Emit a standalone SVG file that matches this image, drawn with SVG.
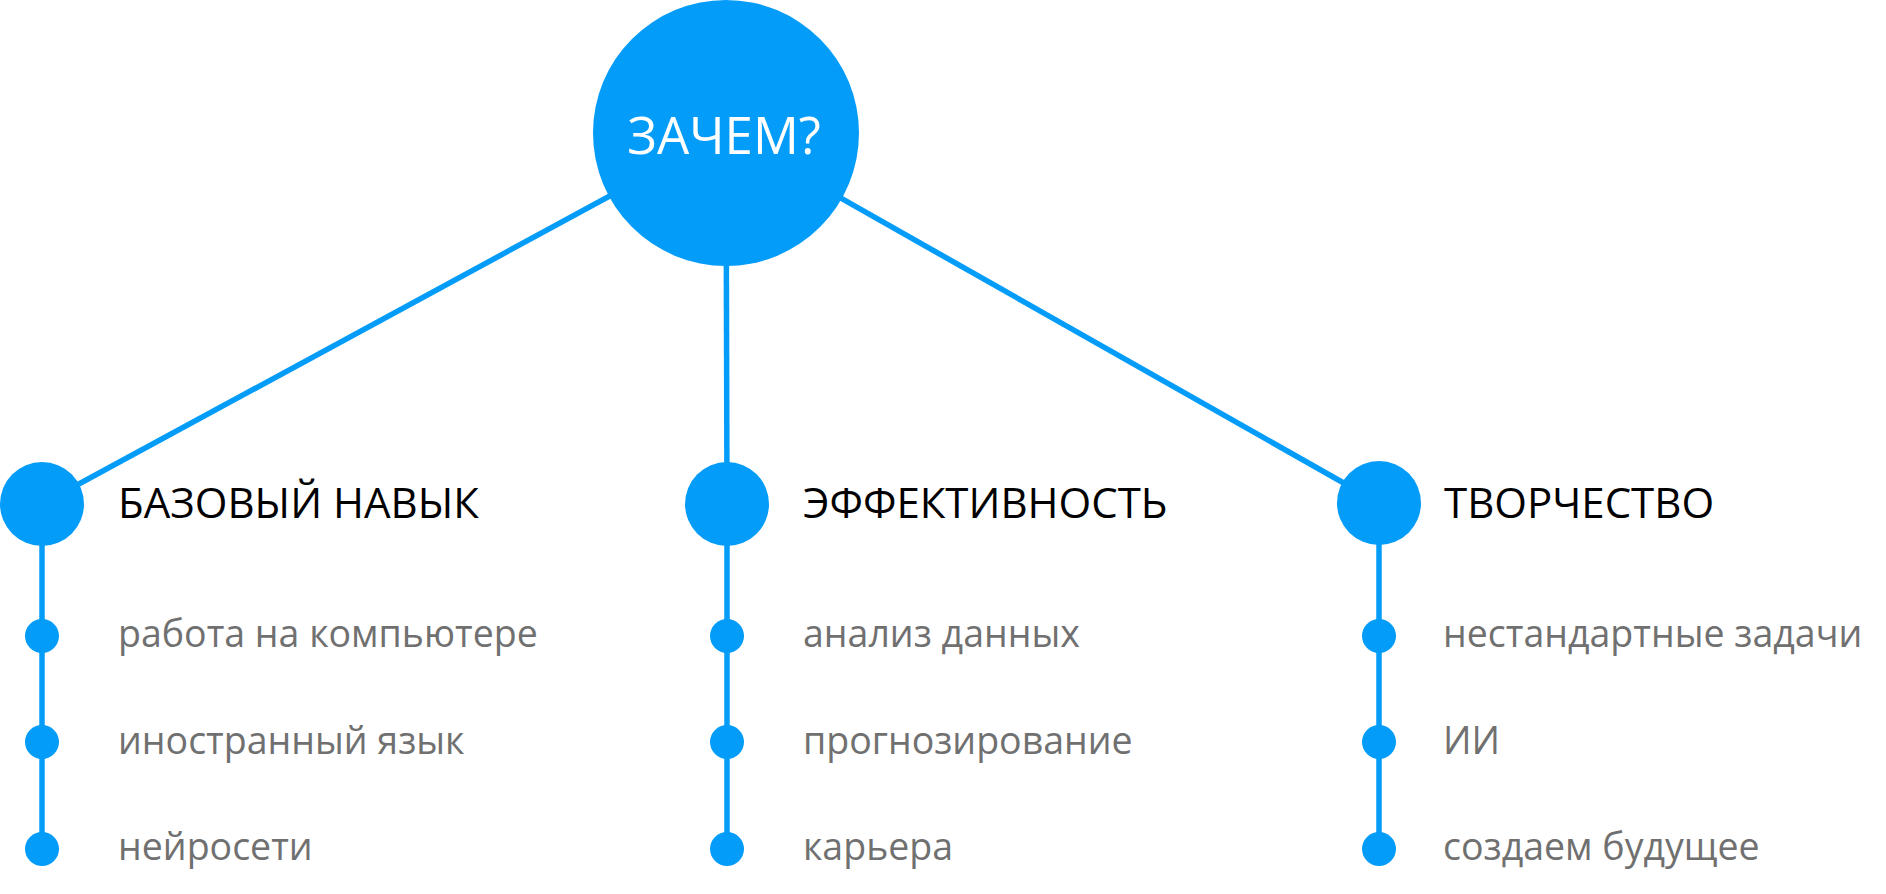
<svg xmlns="http://www.w3.org/2000/svg" width="1886" height="894" viewBox="0 0 1886 894">
<style>
.blue{fill:#049cf9}
.ln{stroke:#049cf9;stroke-width:5.5;fill:none}
.title{font-family:"Open Sans","Liberation Sans",sans-serif;font-size:51px;fill:#ffffff}
.head{font-family:"Open Sans","Liberation Sans",sans-serif;font-size:42px;fill:#000000}
.sub{font-family:"Open Sans","Liberation Sans",sans-serif;font-size:37.5px;fill:#707070}
</style>
<rect width="1886" height="894" fill="#ffffff"/>
<g id="connectors">
<line class="ln" x1="726" y1="133" x2="42" y2="504"/>
<line class="ln" x1="726" y1="133" x2="727" y2="504"/>
<line class="ln" x1="726" y1="133" x2="1379" y2="503"/>
<line class="ln" x1="42" y1="504" x2="42" y2="849"/>
<line class="ln" x1="727" y1="504" x2="727" y2="849"/>
<line class="ln" x1="1379" y1="503" x2="1379" y2="849"/>
</g>
<g id="root">
<circle class="blue" cx="726" cy="133" r="133"/>
<text class="title" x="724" y="154" text-anchor="middle">ЗАЧЕМ?</text>
</g>
<g id="base">
<circle class="blue" cx="42" cy="504" r="42"/>
<text class="head" x="118" y="518">БАЗОВЫЙ НАВЫК</text>
</g>
<g id="base-1"><circle class="blue" cx="42" cy="636" r="17"/><text class="sub" x="118" y="647">работа на компьютере</text></g>
<g id="base-2"><circle class="blue" cx="42" cy="742" r="17"/><text class="sub" x="118" y="754">иностранный язык</text></g>
<g id="base-3"><circle class="blue" cx="42" cy="849" r="17"/><text class="sub" x="118" y="860">нейросети</text></g>
<g id="eff">
<circle class="blue" cx="727" cy="504" r="42"/>
<text class="head" x="803" y="518">ЭФФЕКТИВНОСТЬ</text>
</g>
<g id="eff-1"><circle class="blue" cx="727" cy="636" r="17"/><text class="sub" x="803" y="647">анализ данных</text></g>
<g id="eff-2"><circle class="blue" cx="727" cy="742" r="17"/><text class="sub" x="803" y="754">прогнозирование</text></g>
<g id="eff-3"><circle class="blue" cx="727" cy="849" r="17"/><text class="sub" x="803" y="860">карьера</text></g>
<g id="creat">
<circle class="blue" cx="1379" cy="503" r="42"/>
<text class="head" x="1444" y="518">ТВОРЧЕСТВО</text>
</g>
<g id="creat-1"><circle class="blue" cx="1379" cy="636" r="17"/><text class="sub" x="1443" y="647">нестандартные задачи</text></g>
<g id="creat-2"><circle class="blue" cx="1379" cy="742" r="17"/><text class="sub" x="1443" y="754">ИИ</text></g>
<g id="creat-3"><circle class="blue" cx="1379" cy="849" r="17"/><text class="sub" x="1443" y="860">создаем будущее</text></g>
</svg>
